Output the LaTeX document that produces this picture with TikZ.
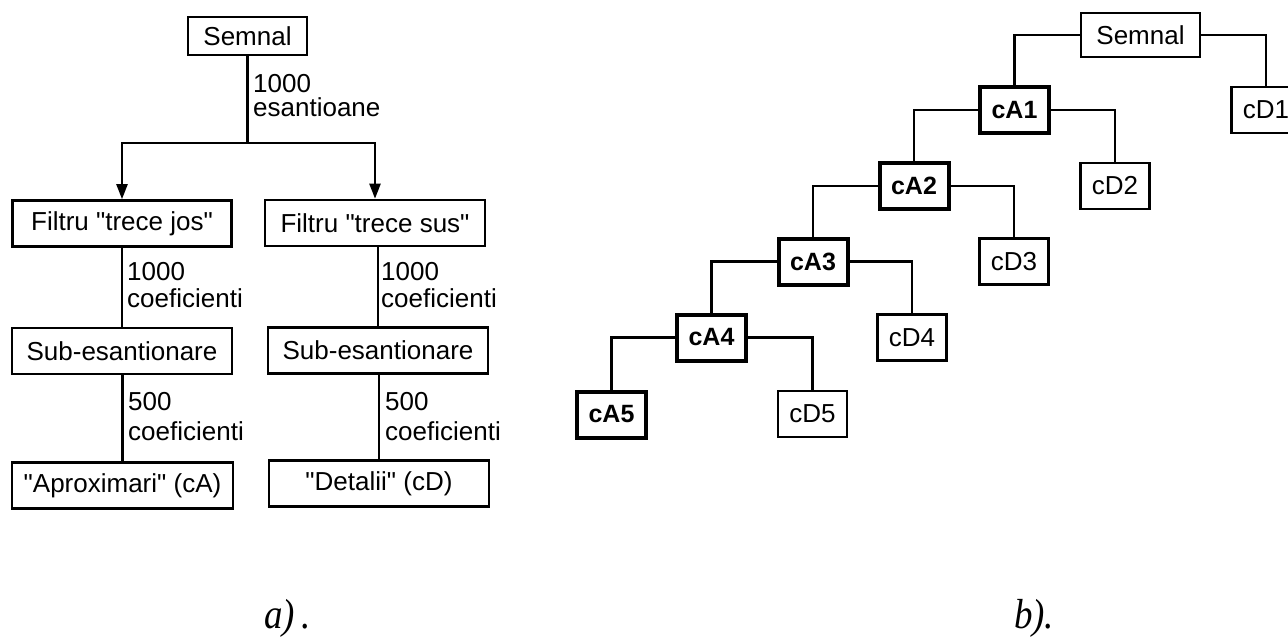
\documentclass[tikz,border=0pt]{standalone}
\usepackage{fontspec}
\usepackage{graphicx}
\setmainfont{Liberation Sans}[Ligatures=TeXOff]
\newfontfamily\capfont{Liberation Serif}
\usetikzlibrary{arrows.meta}
\begin{document}
\begin{tikzpicture}[x=1pt,y=-1pt,
  every node/.style={inner sep=0pt},
  box/.style={draw, line width=2.7pt, minimum height=46pt,
    font=\fontsize{26}{30}\selectfont},
  wbox/.style={box, minimum width=220pt},
  sbox/.style={box, minimum width=69pt},
  abox/.style={sbox, line width=4pt, font=\fontsize{25}{30}\selectfont\bfseries},
  link/.style={line width=2.5pt},
  flow/.style={link, -{Triangle[length=15pt,width=11pt]}},
  lbl/.style={anchor=west, align=left},
  caption/.style={anchor=base west, font=\capfont\itshape\fontsize{42}{42}\selectfont}
]
\useasboundingbox (0,0) rectangle (1288,641);

% ---------- a) one level of the decomposition ----------
\node[box, minimum width=119pt, minimum height=38pt] (s1) at (247.5,36) {Semnal};
\node[wbox, minimum width=219pt] (fj) at (122,223.5) {Filtru "trece jos"};
\node[wbox] (fs) at (375,223) {Filtru "trece sus"};
\node[wbox] (sj) at (122,351) {Sub-esantionare};
\node[wbox] (ss) at (378,350.5) {Sub-esantionare};
\node[wbox, minimum width=221pt] (aj) at (122.5,485.5) {"Aproximari" (cA)};
\node[wbox] (ds) at (379,483.5) {"Detalii" (cD)};

\coordinate (split) at (247.5,143);
\draw[link] (s1.south) -- (split);
\draw[flow] (split) -| (fj.north);
\draw[flow] (split) -| (fs.north);
\draw[link] (sj.north) -- (sj.north |- fj.south);
\draw[link] (ss.north) -- (ss.north |- fs.south);
\draw[link] (aj.north) -- (aj.north |- sj.south);
\draw[link] (ds.north) -- (ds.north |- ss.south);

\node[lbl, font=\fontsize{26}{24}\selectfont] (l1) at (253,95.7) {1000\\esantioane};
\node[lbl, font=\fontsize{26}{27}\selectfont] (l2) at (127,285.2) {1000\\coeficienti};
\node[lbl, font=\fontsize{26}{27}\selectfont] (l3) at (381,285.2) {1000\\coeficienti};
\node[lbl, font=\fontsize{26}{30}\selectfont] (l4) at (128,416.2) {500\\coeficienti};
\node[lbl, font=\fontsize{26}{30}\selectfont] (l5) at (385,416.2) {500\\coeficienti};

% ---------- b) five-level wavelet tree ----------
\node[box, minimum width=119pt, minimum height=44pt] (s2) at (1140.5,35) {Semnal};
\node[abox] (a1) at (1014.5,110) {cA1};
\node[sbox] (d1) at (1266,110) {cD1};
\node[abox] (a2) at (914,186) {cA2};
\node[sbox] (d2) at (1115,186) {cD2};
\node[abox] (a3) at (813,261.5) {cA3};
\node[sbox] (d3) at (1014,261.5) {cD3};
\node[abox] (a4) at (711.5,337.5) {cA4};
\node[sbox] (d4) at (912,337.5) {cD4};
\node[abox] (a5) at (611.5,414.5) {cA5};
\node[sbox] (d5) at (812.5,414) {cD5};

\draw[link] (s2.west) -| (a1.north);
\draw[link] (s2.east) -| (d1.north);
\draw[link] (a1.west) -| (a2.north);
\draw[link] (a1.east) -| (d2.north);
\draw[link] (a2.west) -| (a3.north);
\draw[link] (a2.east) -| (d3.north);
\draw[link] (a3.west) -| (a4.north);
\draw[link] (a3.east) -| (d4.north);
\draw[link] (a4.west) -| (a5.north);
\draw[link] (a4.east) -| (d5.north);

% ---------- captions ----------
\node[caption] (ca) at (264,628) {\scalebox{0.88}[1]{a)\,.}};
\node[caption] (cb) at (1014,628) {\scalebox{0.88}[1]{b).}};
\end{tikzpicture}
\end{document}
